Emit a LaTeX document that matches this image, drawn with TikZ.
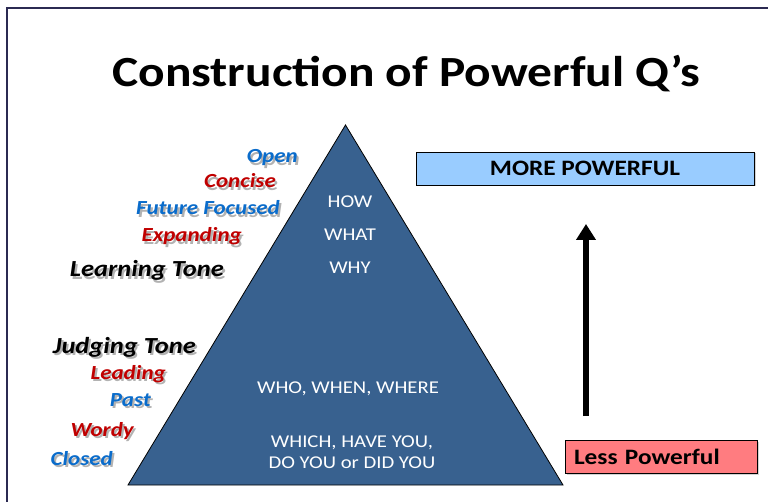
\documentclass[tikz,border=0pt]{standalone}
\usepackage{fontspec}
\setmainfont{Carlito}[FakeStretch=1.15]
\usetikzlibrary{arrows.meta,positioning,shadows}
\definecolor{QNavy}{HTML}{2B2A52}
\definecolor{QPyramid}{HTML}{38618F}
\definecolor{QBlue}{HTML}{0A6CCB}
\definecolor{QRed}{HTML}{C00000}
\definecolor{QMore}{HTML}{99CCFF}
\definecolor{QLess}{HTML}{FF7C80}
% text with a soft grey copy set just below and to the right
\newcommand{\shadedword}[2]{\rlap{\hspace{2pt}\raisebox{-2.5pt}{\textcolor{black!30}{#2}}}\textcolor{#1}{#2}}

\begin{document}
\begin{tikzpicture}[x=1pt,y=-1pt,
  pyramid/.style={draw=black,line width=0.8pt,fill=QPyramid},
  level/.style={anchor=base,inner sep=0pt,text=white,font=\fontsize{18}{18}\selectfont},
  qword/.style={anchor=base east,inner sep=0pt},
  band/.style={draw=black,line width=0.9pt,minimum height=33pt,inner sep=0pt,font=\bfseries,
    drop shadow={shadow xshift=1.5pt,shadow yshift=-1.5pt,opacity=.35}},
]
\useasboundingbox (0,0) rectangle (768,502);
% frame
\draw[QNavy,line width=2pt] (7,502) -- (7,8) -- (768,8);

\node[anchor=base,inner sep=0pt,font=\bfseries\fontsize{43}{43}\selectfont] (title) at (406,87) {Construction of Powerful Q’s};

% pyramid
\coordinate (apex) at (345.5,125);
\coordinate (baseL) at (128,485);
\coordinate (baseR) at (563,485);
\draw[pyramid] (apex) -- (baseL) -- (baseR) -- cycle;

\node[level] (how) at (350,208) {HOW};
\node[level] (what) at (350,241) {WHAT};
\node[level] (why) at (350,274) {WHY};
\node[level] (who) at (348,393) {WHO, WHEN, WHERE};
\node[level] (which) at (352,447) {WHICH, HAVE YOU,};
\node[level] (doyou) at (352,468) {DO YOU or DID YOU};

% question qualities along the left side
\foreach \nm/\xe/\yb/\col/\fs/\txt in {
  open/298/163/QBlue/20/Open,
  concise/276/188/QRed/20/Concise,
  future/280/215/QBlue/20/Future Focused,
  expanding/242/242/QRed/20/Expanding,
  learning/224/277/black/23/Learning Tone,
  judging/196/353/black/23/Judging Tone,
  leading/166/379/QRed/20/Leading,
  past/151/406/QBlue/20/Past,
  wordy/134/436/QRed/20/Wordy,
  closed/113/465/QBlue/20/Closed}
{
  \node[qword,font=\bfseries\itshape\fontsize{\fs}{\fs}\selectfont] (\nm) at (\xe,\yb) {\shadedword{\col}{\txt}};
}

% power scale
\node[band,fill=QMore,minimum width=338pt,font=\bfseries\fontsize{22}{22}\selectfont] (more) at (585,168.5) {MORE POWERFUL};
\node[band,fill=QLess,minimum width=192pt,text width=174pt,align=left,font=\bfseries\fontsize{22}{22}\selectfont] (less) at (661,457) {Less Powerful};
\coordinate (foot) at (586,416);
\coordinate (tip) at (586,224);
\draw[-{Triangle[width=19pt,length=16pt]},line width=6pt] (foot) -- (tip);
\end{tikzpicture}
\end{document}
